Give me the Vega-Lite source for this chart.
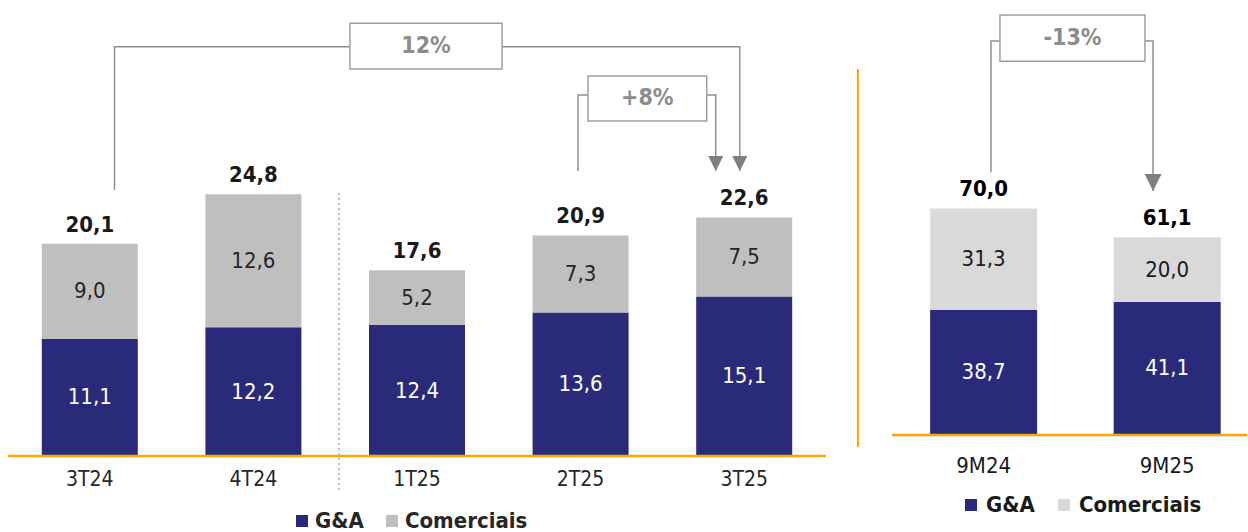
{
  "$schema": "https://vega.github.io/schema/vega-lite/v6.json",
  "background": "white",
  "padding": {"left": 6, "top": 0, "right": 0, "bottom": 0},
  "spacing": 28,
  "config": {
    "view": {"stroke": null},
    "font": "DejaVu Sans Condensed, DejaVu Sans",
    "locale": {"number": {"decimal": ",", "thousands": ".", "grouping": [3], "currency": ["R$", ""]}}
  },
  "datasets": {
    "quarters": [
      {"period": "3T24", "slot": 1, "series": "G&A", "value": 11.1},
      {"period": "3T24", "slot": 1, "series": "Comerciais", "value": 9.0},
      {"period": "4T24", "slot": 2, "series": "G&A", "value": 12.2},
      {"period": "4T24", "slot": 2, "series": "Comerciais", "value": 12.6},
      {"period": "1T25", "slot": 3, "series": "G&A", "value": 12.4},
      {"period": "1T25", "slot": 3, "series": "Comerciais", "value": 5.2},
      {"period": "2T25", "slot": 4, "series": "G&A", "value": 13.6},
      {"period": "2T25", "slot": 4, "series": "Comerciais", "value": 7.3},
      {"period": "3T25", "slot": 5, "series": "G&A", "value": 15.1},
      {"period": "3T25", "slot": 5, "series": "Comerciais", "value": 7.5}
    ],
    "ytd": [
      {"period": "9M24", "slot": 1, "series": "G&A", "value": 38.7},
      {"period": "9M24", "slot": 1, "series": "Comerciais", "value": 31.3},
      {"period": "9M25", "slot": 2, "series": "G&A", "value": 41.1},
      {"period": "9M25", "slot": 2, "series": "Comerciais", "value": 20.0}
    ],
    "qsep": [{"x": 2.523, "y": 24.92, "y2": -3.22}],
    "qbrackets": [
      {"id": "12%", "step": 1, "x": 1.151, "y": 25.2},
      {"id": "12%", "step": 2, "x": 1.151, "y": 38.78},
      {"id": "12%", "step": 3, "x": 4.973, "y": 38.78},
      {"id": "12%", "step": 4, "x": 4.973, "y": 27.0},
      {"id": "+8%", "step": 1, "x": 3.984, "y": 27.0},
      {"id": "+8%", "step": 2, "x": 3.984, "y": 34.2},
      {"id": "+8%", "step": 3, "x": 4.826, "y": 34.2},
      {"id": "+8%", "step": 4, "x": 4.826, "y": 27.0}
    ],
    "qboxes": [
      {"label": "12%", "x": 2.59, "x2": 3.52, "y": 41.0, "y2": 36.67, "lx": 3.055, "ly": 38.83},
      {"label": "+8%", "x": 4.045, "x2": 4.771, "y": 36.0, "y2": 31.74, "lx": 4.408, "ly": 33.87}
    ],
    "yframe": [{"x": 0.315, "y": 113.1, "y2": -3.7}],
    "ybrackets": [
      {"id": "-13%", "step": 1, "x": 1.04, "y": 81.2},
      {"id": "-13%", "step": 2, "x": 1.04, "y": 121.7},
      {"id": "-13%", "step": 3, "x": 1.923, "y": 121.7},
      {"id": "-13%", "step": 4, "x": 1.923, "y": 75.4}
    ],
    "yboxes": [
      {"label": "-13%", "x": 1.089, "x2": 1.879, "y": 129.75, "y2": 115.5, "lx": 1.484, "ly": 122.6}
    ]
  },
  "hconcat": [
    {
      "width": 818,
      "height": 456,
      "layer": [
        {
          "data": {"name": "quarters"},
          "mark": {"type": "bar", "width": 96},
          "encoding": {
            "x": {"field": "slot", "type": "quantitative", "scale": {"domain": [0.5, 5.5], "nice": false, "zero": false, "padding": 0}, "axis": null},
            "y": {"field": "value", "type": "quantitative", "stack": "zero", "scale": {"domain": [0, 43.2], "nice": false, "padding": 0}, "axis": null},
            "color": {
              "field": "series", "type": "nominal",
              "scale": {"domain": ["G&A", "Comerciais"], "range": ["#2A2A7A", "#BFBFBF"]},
              "legend": {"orient": "none", "legendX": 283, "legendY": 510, "direction": "horizontal", "title": null, "symbolType": "square", "symbolSize": 144, "symbolStrokeWidth": 0, "labelFontSize": 22, "labelFontWeight": "bold", "labelColor": "#262626", "columnPadding": 17, "labelOffset": 2, "padding": 0}
            },
            "order": {"field": "series", "sort": "descending"}
          }
        },
        {
          "data": {"name": "quarters"},
          "mark": {"type": "text", "fontSize": 22, "baseline": "middle"},
          "encoding": {
            "x": {"field": "slot", "type": "quantitative"},
            "y": {"field": "value", "type": "quantitative", "stack": "zero", "bandPosition": 0.5},
            "detail": {"field": "series"},
            "order": {"field": "series", "sort": "descending"},
            "text": {"field": "value", "type": "quantitative", "format": ".1f"},
            "color": {"condition": {"test": "datum.series === 'G&A'", "value": "white"}, "value": "#262626"}
          }
        },
        {
          "data": {"name": "quarters"},
          "mark": {"type": "text", "fontSize": 22, "fontWeight": "bold", "baseline": "alphabetic", "dy": -12, "color": "#1A1A1A"},
          "encoding": {
            "x": {"field": "slot", "type": "quantitative"},
            "y": {"aggregate": "sum", "field": "value", "type": "quantitative", "stack": null},
            "text": {"aggregate": "sum", "field": "value", "type": "quantitative", "format": ".1f"}
          }
        },
        {
          "data": {"name": "quarters"},
          "transform": [{"filter": "datum.series === 'G&A'"}],
          "mark": {"type": "text", "fontSize": 21, "baseline": "middle", "dy": 24, "color": "#262626"},
          "encoding": {
            "x": {"field": "slot", "type": "quantitative"},
            "y": {"datum": 0},
            "text": {"field": "period"}
          }
        },
        {
          "data": {"values": [{}]},
          "mark": {"type": "rule", "stroke": "#FFA500", "strokeWidth": 2.5},
          "encoding": {"y": {"datum": 0}}
        },
        {
          "data": {"name": "qsep"},
          "mark": {"type": "rule", "stroke": "#BFBFBF", "strokeWidth": 2, "strokeDash": [2, 3]},
          "encoding": {
            "x": {"field": "x", "type": "quantitative"},
            "y": {"field": "y", "type": "quantitative"},
            "y2": {"field": "y2"}
          }
        },
        {
          "data": {"name": "qbrackets"},
          "mark": {"type": "line", "stroke": "#8F8F8F", "strokeWidth": 1.5, "strokeJoin": "miter"},
          "encoding": {
            "x": {"field": "x", "type": "quantitative"},
            "y": {"field": "y", "type": "quantitative"},
            "detail": {"field": "id"},
            "order": {"field": "step"}
          }
        },
        {
          "data": {"name": "qbrackets"},
          "transform": [{"filter": "datum.step === 4"}],
          "mark": {"type": "point", "shape": "M-1,-2L1,-2L0,0Z", "size": 225, "filled": true, "color": "#7F7F7F", "opacity": 1, "strokeWidth": 0},
          "encoding": {
            "x": {"field": "x", "type": "quantitative"},
            "y": {"field": "y", "type": "quantitative"}
          }
        },
        {
          "data": {"name": "qboxes"},
          "mark": {"type": "rect", "fill": "white", "stroke": "#A0A0A0", "strokeWidth": 1.5},
          "encoding": {
            "x": {"field": "x", "type": "quantitative"},
            "x2": {"field": "x2"},
            "y": {"field": "y", "type": "quantitative"},
            "y2": {"field": "y2"}
          }
        },
        {
          "data": {"name": "qboxes"},
          "mark": {"type": "text", "fontSize": 23, "fontWeight": "bold", "color": "#8C8C8C", "baseline": "middle"},
          "encoding": {
            "x": {"field": "lx", "type": "quantitative"},
            "y": {"field": "ly", "type": "quantitative"},
            "text": {"field": "label"}
          }
        }
      ]
    },
    {
      "width": 390,
      "height": 435,
      "layer": [
        {
          "data": {"name": "ytd"},
          "mark": {"type": "bar", "width": 107},
          "encoding": {
            "x": {"field": "slot", "type": "quantitative", "scale": {"domain": [0.31, 2.435], "nice": false, "zero": false, "padding": 0}, "axis": null},
            "y": {"field": "value", "type": "quantitative", "stack": "zero", "scale": {"domain": [0, 134.4], "nice": false, "padding": 0}, "axis": null},
            "color": {
              "field": "series", "type": "nominal",
              "scale": {"domain": ["G&A", "Comerciais"], "range": ["#2A2A7A", "#D9D9D9"]},
              "legend": {"orient": "none", "legendX": 103, "legendY": 494, "direction": "horizontal", "title": null, "symbolType": "square", "symbolSize": 144, "symbolStrokeWidth": 0, "labelFontSize": 22, "labelFontWeight": "bold", "labelColor": "#1A1A1A", "columnPadding": 18, "labelOffset": 4, "padding": 0}
            },
            "order": {"field": "series", "sort": "descending"}
          }
        },
        {
          "data": {"name": "ytd"},
          "mark": {"type": "text", "fontSize": 22, "baseline": "middle"},
          "encoding": {
            "x": {"field": "slot", "type": "quantitative"},
            "y": {"field": "value", "type": "quantitative", "stack": "zero", "bandPosition": 0.5},
            "detail": {"field": "series"},
            "order": {"field": "series", "sort": "descending"},
            "text": {"field": "value", "type": "quantitative", "format": ".1f"},
            "color": {"condition": {"test": "datum.series === 'G&A'", "value": "white"}, "value": "#1A1A1A"}
          }
        },
        {
          "data": {"name": "ytd"},
          "mark": {"type": "text", "fontSize": 22, "fontWeight": "bold", "baseline": "alphabetic", "dy": -12, "color": "#000000"},
          "encoding": {
            "x": {"field": "slot", "type": "quantitative"},
            "y": {"aggregate": "sum", "field": "value", "type": "quantitative", "stack": null},
            "text": {"aggregate": "sum", "field": "value", "type": "quantitative", "format": ".1f"}
          }
        },
        {
          "data": {"name": "ytd"},
          "transform": [{"filter": "datum.series === 'G&A'"}],
          "mark": {"type": "text", "fontSize": 22, "baseline": "middle", "dy": 31, "color": "#1A1A1A"},
          "encoding": {
            "x": {"field": "slot", "type": "quantitative"},
            "y": {"datum": 0},
            "text": {"field": "period"}
          }
        },
        {
          "data": {"values": [{}]},
          "mark": {"type": "rule", "stroke": "#FFA500", "strokeWidth": 2.5},
          "encoding": {"x": {"datum": 0.5}, "x2": {"datum": 2.435}, "y": {"datum": 0}}
        },
        {
          "data": {"name": "yframe"},
          "mark": {"type": "rule", "stroke": "#FFA500", "strokeWidth": 2},
          "encoding": {
            "x": {"field": "x", "type": "quantitative"},
            "y": {"field": "y", "type": "quantitative"},
            "y2": {"field": "y2"}
          }
        },
        {
          "data": {"name": "ybrackets"},
          "mark": {"type": "line", "stroke": "#8F8F8F", "strokeWidth": 1.5, "strokeJoin": "miter"},
          "encoding": {
            "x": {"field": "x", "type": "quantitative"},
            "y": {"field": "y", "type": "quantitative"},
            "detail": {"field": "id"},
            "order": {"field": "step"}
          }
        },
        {
          "data": {"name": "ybrackets"},
          "transform": [{"filter": "datum.step === 4"}],
          "mark": {"type": "point", "shape": "M-1,-2L1,-2L0,0Z", "size": 289, "filled": true, "color": "#7F7F7F", "opacity": 1, "strokeWidth": 0},
          "encoding": {
            "x": {"field": "x", "type": "quantitative"},
            "y": {"field": "y", "type": "quantitative"}
          }
        },
        {
          "data": {"name": "yboxes"},
          "mark": {"type": "rect", "fill": "white", "stroke": "#A0A0A0", "strokeWidth": 1.5},
          "encoding": {
            "x": {"field": "x", "type": "quantitative"},
            "x2": {"field": "x2"},
            "y": {"field": "y", "type": "quantitative"},
            "y2": {"field": "y2"}
          }
        },
        {
          "data": {"name": "yboxes"},
          "mark": {"type": "text", "fontSize": 23, "fontWeight": "bold", "color": "#8C8C8C", "baseline": "middle"},
          "encoding": {
            "x": {"field": "lx", "type": "quantitative"},
            "y": {"field": "ly", "type": "quantitative"},
            "text": {"field": "label"}
          }
        }
      ]
    }
  ],
  "resolve": {"scale": {"color": "independent"}, "legend": {"color": "independent"}}
}
